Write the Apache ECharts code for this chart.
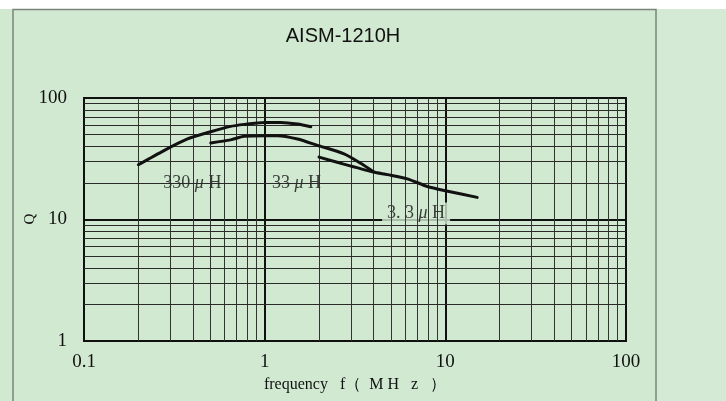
<!DOCTYPE html>
<html><head><meta charset="utf-8">
<script src="https://cdn.jsdelivr.net/npm/echarts@6/dist/echarts.min.js"></script>
<style>html,body{margin:0;padding:0;background:#d1e8d1}#c{width:726px;height:401px}</style>
</head><body><div id="c"></div>
<script>
// Curve data (frequency in MHz, Q)
const freq330 = [0.2, 0.277, 0.374, 0.503, 0.648, 0.802, 0.911, 1.0, 1.23, 1.52, 1.80];
const q330    = [28.2, 36.9, 46.0, 52.8, 58.4, 61.1, 62.4, 63.0, 63.0, 61.1, 58.0];
const freq33  = [0.503, 0.648, 0.768, 1.0, 1.18, 1.52, 1.96, 2.75, 3.40, 4.0];
const q33     = [42.7, 45.2, 48.4, 49.0, 49.0, 46.0, 40.8, 34.7, 29.0, 24.7];
const freq3p3 = [2.0, 2.64, 4.0, 4.78, 6.16, 7.95, 10.3, 15.0];
const q3p3    = [32.6, 29.0, 24.6, 23.4, 21.6, 18.7, 17.1, 15.2];
// Curve labels
const labelText = ['330 {m|μ} H', '33 {m|μ} H', '3. 3 {m|μ} H'];
const labelFreq = [0.398, 1.50, 6.89];
const labelQ    = [20, 20, 11.2];
// Grid lines
const xMinorGrid = [0.2,0.3,0.4,0.5,0.6,0.7,0.8,0.9,2,3,4,5,6,7,8,9,20,30,40,50,60,70,80,90];
const yMinorGrid = [2,3,4,5,6,7,8,9,20,30,40,50,60,70,80,90];
const xTicks = [0.1, 1, 10, 100];
const yTicks = [1, 10, 100];
const xName = 'frequency   f（  M H   z   ）';
const yName = 'Q';

const GREEN = '#d1e8d1';
const serif = '"Liberation Serif", "DejaVu Serif", serif';
const pairs = (xs, ys) => xs.map((x, i) => [x, ys[i]]);

const chart = echarts.init(document.getElementById('c'), null, {renderer: 'canvas'});
const curve = (name, data) => ({
  name, type: 'line', data, smooth: 0.25, symbol: 'none', z: 5,
  lineStyle: {color: '#111', width: 3, cap: 'round', join: 'round'}, animation: false, silent: true
});
chart.setOption({
  backgroundColor: GREEN,
  animation: false,
  graphic: [
    {type: 'rect', shape: {x: 0, y: 0, width: 726, height: 9}, style: {fill: '#ffffff'}, z: 0},
    {type: 'rect', shape: {x: 656, y: 9, width: 70, height: 392}, style: {fill: '#d4ead4'}, z: 0},
    {type: 'rect', shape: {x: 13, y: 9.5, width: 643, height: 400}, style: {fill: 'none', stroke: '#7a857a', lineWidth: 1.5}, z: 1},
    {type: 'text', x: 343, y: 36, style: {text: 'AISM-1210H', font: '20px "Liberation Sans", Arial, sans-serif', fill: '#111', textAlign: 'center', textVerticalAlign: 'middle'}, z: 2},
    {type: 'text', x: 30, y: 219, rotation: Math.PI / 2, style: {text: yName, font: '15px "Liberation Serif", serif', fill: '#111', textAlign: 'center', textVerticalAlign: 'middle'}, z: 2}
  ],
  grid: {left: 84, right: 100, top: 98, bottom: 60, show: true, borderColor: '#111', borderWidth: 2, backgroundColor: 'transparent'},
  xAxis: {
    type: 'log', logBase: 10, min: 0.1, max: 100,
    name: xName, nameLocation: 'middle', nameGap: 35,
    nameTextStyle: {fontFamily: serif, fontSize: 16, color: '#111'},
    axisLine: {show: false}, axisTick: {show: false},
    axisLabel: {fontFamily: serif, fontSize: 19, color: '#111', margin: 12,
      formatter: v => xTicks.includes(+v) ? String(v) : ''},
    splitLine: {show: true, lineStyle: {color: '#111', width: 2}}
  },
  yAxis: {
    type: 'log', logBase: 10, min: 1, max: 100,
    axisLine: {show: false}, axisTick: {show: false},
    axisLabel: {fontFamily: serif, fontSize: 19, color: '#111', margin: 17,
      formatter: v => yTicks.includes(+v) ? String(v) : ''},
    splitLine: {show: true, lineStyle: {color: '#111', width: 2}}
  },
  series: [
    {
      type: 'line', data: [], z: 1, silent: true,
      markLine: {
        silent: true, symbol: 'none', animation: false, label: {show: false},
        lineStyle: {color: '#333', width: 1, type: 'solid'},
        data: xMinorGrid.map(v => ({xAxis: v})).concat(yMinorGrid.map(v => ({yAxis: v, lineStyle: {color: '#2a2a2a', width: 1.2, type: 'solid'}})))
      }
    },
    curve('330uH', pairs(freq330, q330)),
    curve('33uH', pairs(freq33, q33)),
    curve('3.3uH', pairs(freq3p3, q3p3)),
    {
      type: 'scatter', z: 4, silent: true, symbolSize: 0,
      data: labelText.map((t, i) => ({value: [labelFreq[i], labelQ[i]], label: {formatter: t}})),
      label: {
        show: true, position: 'inside', fontFamily: serif, fontSize: 18, color: '#111',
        backgroundColor: GREEN, padding: [2, 5],
        rich: {m: {fontFamily: serif, fontSize: 18, fontStyle: 'italic', color: '#111'}}
      }
    }
  ]
});
</script>
</body></html>
